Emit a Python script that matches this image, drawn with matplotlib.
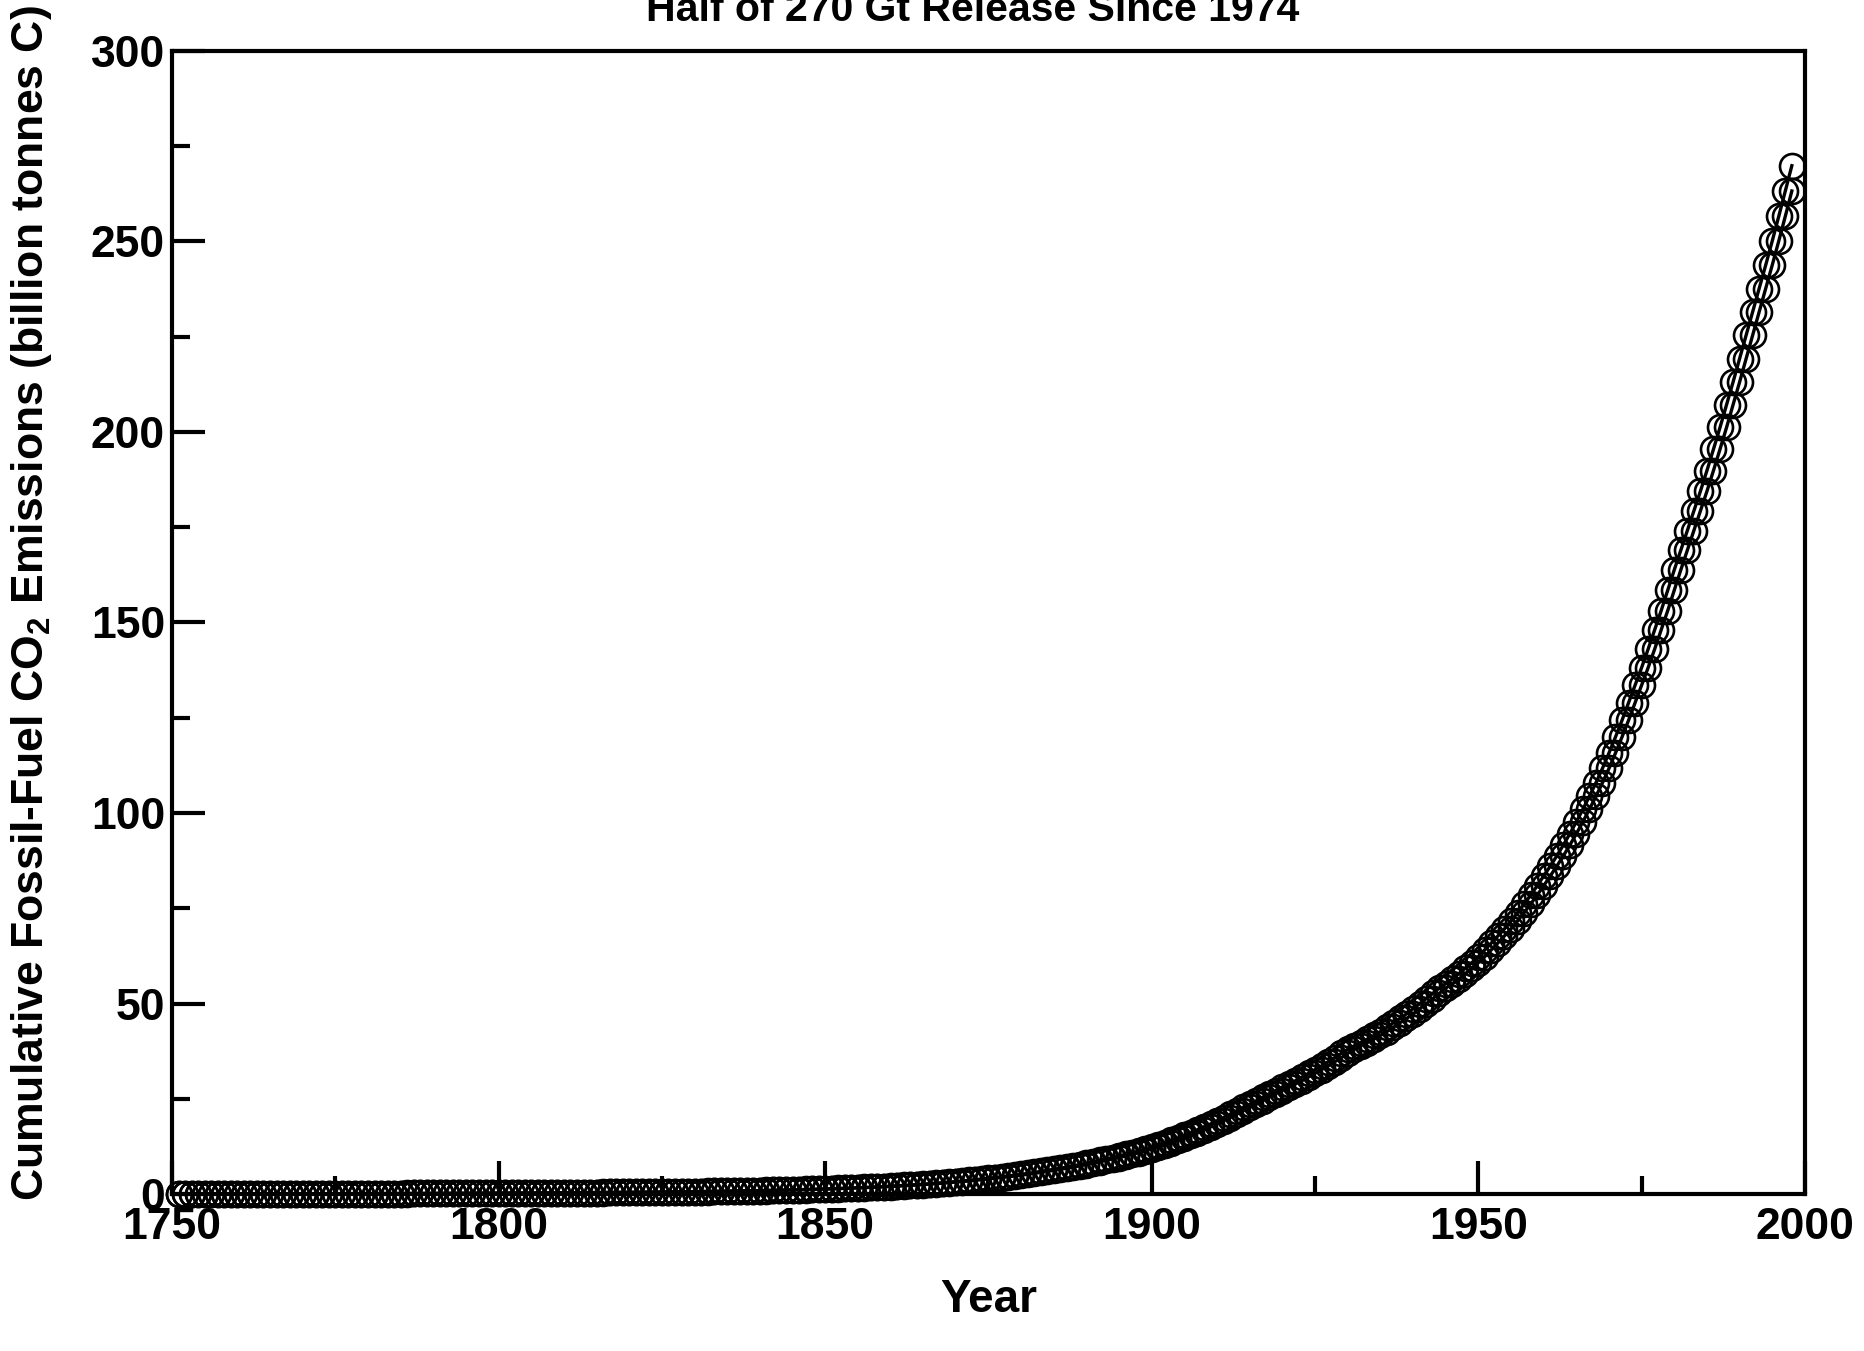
import matplotlib
matplotlib.use("Agg")
import matplotlib.pyplot as plt
import numpy as np
from matplotlib.ticker import MultipleLocator

# annual global fossil-fuel carbon emissions, million tonnes C (one row per decade)
first_year = 1751
annual_mt = [
    3, 3, 3, 3, 3, 3, 3, 3, 3, 3,                               # 1751-1760
    3, 3, 3, 3, 3, 3, 4, 4, 4, 4,                               # 1761-1770
    4, 4, 4, 4, 4, 4, 4, 5, 5, 5,                               # 1771-1780
    5, 5, 5, 5, 5, 5, 6, 6, 6, 7,                               # 1781-1790
    7, 7, 7, 7, 7, 7, 8, 8, 8, 8,                               # 1791-1800
    8, 9, 9, 9, 9, 10, 10, 10, 10, 10,                          # 1801-1810
    11, 11, 11, 11, 12, 12, 13, 13, 14, 14,                     # 1811-1820
    15, 15, 16, 17, 18, 18, 19, 20, 21, 24,                     # 1821-1830
    23, 24, 25, 26, 27, 28, 29, 30, 31, 33,                     # 1831-1840
    34, 36, 37, 39, 41, 44, 47, 49, 51, 54,                     # 1841-1850
    54, 57, 59, 69, 71, 76, 77, 78, 83, 91,                     # 1851-1860
    95, 97, 104, 112, 119, 122, 130, 135, 142, 147,             # 1861-1870
    156, 173, 184, 174, 188, 191, 194, 196, 210, 236,           # 1871-1880
    243, 256, 272, 275, 277, 281, 295, 327, 327, 356,           # 1881-1890
    372, 374, 370, 383, 406, 419, 440, 465, 507, 534,           # 1891-1900
    552, 566, 617, 624, 663, 707, 784, 750, 785, 819,           # 1901-1910
    836, 879, 943, 850, 838, 901, 955, 936, 806, 932,           # 1911-1920
    803, 845, 970, 963, 975, 983, 1062, 1065, 1145, 1053,       # 1921-1930
    940, 847, 893, 973, 1027, 1126, 1195, 1118, 1203, 1299,     # 1931-1940
    1334, 1342, 1391, 1383, 1160, 1238, 1392, 1469, 1419, 1630, # 1941-1950
    1767, 1795, 1841, 1865, 2042, 2177, 2270, 2330, 2454, 2569, # 1951-1960
    2580, 2686, 2833, 2995, 3130, 3288, 3393, 3566, 3780, 4053, # 1961-1970
    4208, 4376, 4614, 4623, 4596, 4864, 5026, 5087, 5369, 5303, # 1971-1980
    5146, 5111, 5093, 5276, 5436, 5599, 5703, 5913, 6007, 6099, # 1981-1990
    6206, 6118, 6112, 6185, 6320, 6489, 6621, 6642,             # 1991-1998
]

title_text = "Half of 270 Gt Release Since 1974"
x_label = "Year"
y_label = "Cumulative Fossil-Fuel CO$_\\mathbf{2}$ Emissions (billion tonnes C)"
x_ticks = [1750, 1800, 1850, 1900, 1950, 2000]
y_ticks = [0, 50, 100, 150, 200, 250, 300]

plt.rcParams['font.family'] = ['Liberation Sans', 'DejaVu Sans']
plt.rcParams['font.weight'] = 'bold'
plt.rcParams['mathtext.fontset'] = 'custom'
plt.rcParams['mathtext.rm'] = 'Liberation Sans:bold'
plt.rcParams['mathtext.bf'] = 'Liberation Sans:bold'

years = np.arange(first_year, first_year + len(annual_mt))
annual = np.array(annual_mt) / 1000.0
cum_end = np.cumsum(annual)          # total at end of year
cum_start = cum_end - annual         # total at start of year

fig = plt.figure(figsize=(18.64, 13.51), dpi=100)
ax = fig.add_axes([0.0923, 0.1162, 0.876, 0.8461])

for yy in (cum_start, cum_end):
    ax.plot(years, yy, color='black', lw=2.4, marker='o', ms=18,
            mfc='none', mec='black', mew=1.9, clip_on=False, zorder=3)

ax.set_xlim(1750, 2000)
ax.set_ylim(0, 300)
ax.set_xticks(x_ticks)
ax.set_yticks(y_ticks)
ax.xaxis.set_minor_locator(MultipleLocator(25))
ax.yaxis.set_minor_locator(MultipleLocator(25))
ax.tick_params(which='both', direction='in', top=False, right=False, width=3,
               labelsize=32, pad=5)
ax.tick_params(axis='x', which='both', pad=9)
ax.tick_params(which='major', length=24)
ax.tick_params(which='minor', length=13)
for sp in ax.spines.values():
    sp.set_linewidth(3)

ax.set_xlabel(x_label, fontsize=33, fontweight='bold')
ax.set_ylabel(y_label, fontsize=32, fontweight='bold')
ax.xaxis.set_label_coords(0.5, -0.0735)
ax.yaxis.set_label_coords(-0.072, 0.517)

fig.text(0.522, 1 - 21 / 1351, title_text, ha='center', va='baseline',
         fontsize=29.5, fontweight='bold')

fig.savefig("out.png", dpi=100)
